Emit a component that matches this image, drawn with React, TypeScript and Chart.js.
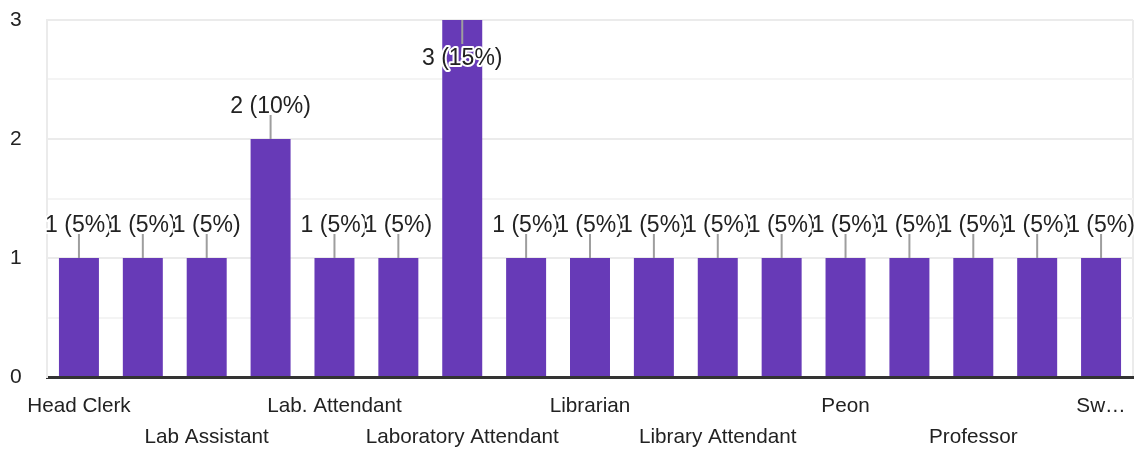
import React, { useEffect, useRef } from 'react';
import { Chart, registerables } from 'chart.js';

Chart.register(...registerables);

const categories = [
  'Head Clerk',
  'Junior Clerk',
  'Lab Assistant',
  'Lab Attendant',
  'Lab. Attendant',
  'Laboratory Assistant',
  'Laboratory Attendant',
  'Lecturer',
  'Librarian',
  'Library Assistant',
  'Library Attendant',
  'Office Assistant',
  'Peon',
  'Principal',
  'Professor',
  'Senior Clerk',
  'Sweeper',
];

const counts = [1, 1, 1, 2, 1, 1, 3, 1, 1, 1, 1, 1, 1, 1, 1, 1, 1];

const xTickLabels = [
  'Head Clerk', '', 'Lab Assistant', '', 'Lab. Attendant', '', 'Laboratory Attendant', '',
  'Librarian', '', 'Library Attendant', '', 'Peon', '', 'Professor', '', 'Sw…',
];

const yTickValues = [0, 1, 2, 3];

const FONT = '"Liberation Sans", Arial, Helvetica, sans-serif';
const total = counts.reduce((a, b) => a + b, 0);

const barLabelPlugin = {
  id: 'barLabels',
  afterDatasetsDraw(chart: any) {
    const ctx = chart.ctx;
    const area = chart.chartArea;
    const meta = chart.getDatasetMeta(0);
    const items = meta.data.map((bar: any, i: number) => {
      const v = counts[i];
      const text = `${v} (${Math.round((v / total) * 100)}%)`;
      const top = bar.y;
      const flip = top - 26 - 15 < area.top;
      return {
        x: bar.x,
        top,
        lineEnd: flip ? top + 24 : top - 24,
        baseline: flip ? top + 45 : top - 26,
        text,
      };
    });
    ctx.save();
    ctx.strokeStyle = '#9e9e9e';
    ctx.lineWidth = 2;
    items.forEach((it: any) => {
      ctx.beginPath();
      ctx.moveTo(it.x, it.top);
      ctx.lineTo(it.x, it.lineEnd);
      ctx.stroke();
    });
    ctx.font = `23px ${FONT}`;
    ctx.textAlign = 'center';
    ctx.textBaseline = 'alphabetic';
    ctx.lineJoin = 'round';
    items.forEach((it: any) => {
      ctx.strokeStyle = '#ffffff';
      ctx.lineWidth = 4;
      ctx.strokeText(it.text, it.x, it.baseline);
      ctx.fillStyle = '#222222';
      ctx.fillText(it.text, it.x, it.baseline);
    });
    ctx.restore();
  },
};

export default function App() {
  const ref = useRef<HTMLCanvasElement>(null);

  useEffect(() => {
    if (!ref.current) return;
    const chart = new Chart(ref.current, {
      type: 'bar',
      data: {
        labels: categories,
        datasets: [
          {
            data: counts,
            backgroundColor: '#673ab7',
            borderWidth: 0,
            barPercentage: 0.626,
            categoryPercentage: 1,
          },
        ],
      },
      options: {
        responsive: false,
        animation: false,
        devicePixelRatio: 1,
        layout: { padding: { left: 10, right: 8, top: 20, bottom: 0 } },
        plugins: {
          legend: { display: false },
          tooltip: { enabled: false },
        },
        scales: {
          x: {
            z: 1,
            ticks: {
              autoSkip: false,
              maxRotation: 0,
              minRotation: 0,
              padding: 13.5,
              color: '#222222',
              font: { family: FONT, size: 20.7, lineHeight: 1.5 },
              callback: (_v: any, i: number) => {
                const t = xTickLabels[i];
                if (!t) return '';
                return (i / 2) % 2 === 1 ? ['', t] : t;
              },
            },
            grid: {
              drawTicks: false,
              lineWidth: 2,
              color: (c: any) =>
                c.type !== 'tick' || c.index === 0 ? '#ebebeb' : 'rgba(0,0,0,0)',
            },
            border: { display: true, color: '#333333', width: 3 },
            afterFit: (s: any) => {
              s.height = 75;
            },
          },
          y: {
            min: 0,
            max: 3,
            ticks: {
              stepSize: 0.5,
              padding: 0,
              crossAlign: 'far',
              color: '#222222',
              font: { family: FONT, size: 21 },
              callback: (v: any) => (yTickValues.includes(Number(v)) ? String(v) : ''),
            },
            grid: {
              drawTicks: false,
              lineWidth: 2,
              color: (c: any) =>
                c.tick && Number.isInteger(c.tick.value) ? '#ebebeb' : '#f4f4f4',
            },
            border: { display: true, color: '#ebebeb', width: 2 },
            afterFit: (s: any) => {
              s.width = 37;
            },
          },
        },
      },
      plugins: [barLabelPlugin],
    });
    return () => chart.destroy();
  }, []);

  return (
    <div style={{ position: 'fixed', left: 0, top: 0, width: 1141, height: 452, background: '#fff' }}>
      <canvas ref={ref} width={1141} height={452} style={{ display: 'block' }} />
    </div>
  );
}
